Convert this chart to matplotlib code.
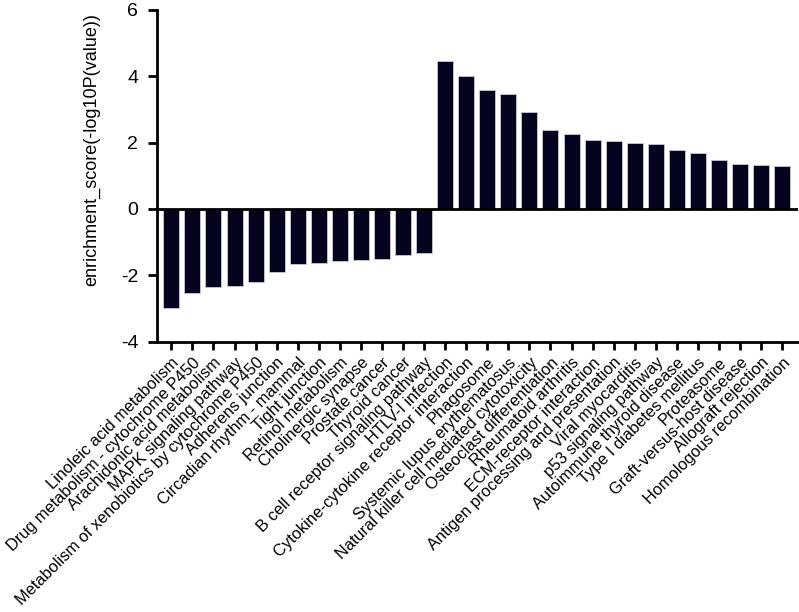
import matplotlib
matplotlib.use("Agg")
import matplotlib.pyplot as plt

categories = [
    "Linoleic acid metabolism",
    "Drug metabolism - cytochrome P450",
    "Arachidonic acid metabolism",
    "MAPK signaling pathway",
    "Metabolism of xenobiotics by cytochrome P450",
    "Adherens junction",
    "Circadian rhythm - mammal",
    "Tight junction",
    "Retinol metabolism",
    "Cholinergic synapse",
    "Prostate cancer",
    "Thyroid cancer",
    "B cell receptor signaling pathway",
    "HTLV-I infection",
    "Cytokine-cytokine receptor interaction",
    "Phagosome",
    "Systemic lupus erythematosus",
    "Natural killer cell mediated cytotoxicity",
    "Osteoclast differentiation",
    "Rheumatoid arthritis",
    "ECM-receptor interaction",
    "Antigen processing and presentation",
    "Viral myocarditis",
    "p53 signaling pathway",
    "Autoimmune thyroid disease",
    "Type I diabetes mellitus",
    "Proteasome",
    "Graft-versus-host disease",
    "Allograft rejection",
    "Homologous recombination",
]
scores = [
    -2.99, -2.52, -2.35, -2.31, -2.21, -1.89, -1.66, -1.62, -1.57, -1.53,
    -1.51, -1.39, -1.32,
    4.45, 4.00, 3.60, 3.46, 2.91, 2.39, 2.25, 2.08, 2.05, 1.98, 1.95,
    1.78, 1.68, 1.48, 1.35, 1.33, 1.31,
]
yticks = [-4, -2, 0, 2, 4, 6]

plt.rcParams['font.family'] = ['Liberation Sans', 'DejaVu Sans']

fig = plt.figure(figsize=(7.99, 6.12), dpi=100)
ax = fig.add_axes([0.1965, 0.4417, 0.8025, 0.542])

x = list(range(len(categories)))
ax.bar(x, scores, width=0.76, color='#05041f', edgecolor='#c8c8d8', linewidth=0.6, zorder=2)
ax.axhline(0, color='black', lw=2.0, zorder=3)

ax.set_xlim(-0.68, 29.76)
ax.set_ylim(-4, 6)
ax.set_yticks(yticks)
ax.set_yticklabels([str(t) for t in yticks], fontsize=14)
ax.set_xticks(x)
ax.set_xticklabels(categories, rotation=45, ha='right', rotation_mode='anchor', fontsize=11.8)

for s in ['top', 'right']:
    ax.spines[s].set_visible(False)
for s in ['left', 'bottom']:
    ax.spines[s].set_linewidth(2.0)
ax.tick_params(axis='y', direction='out', width=2.0, length=6.5, pad=7)
ax.tick_params(axis='x', direction='out', width=2.0, length=5.5, pad=4)

ax.set_ylabel('enrichment_score(-log10P(value))', fontsize=13)
ax.yaxis.set_label_coords(-0.088, 0.578)

fig.savefig('out.png', dpi=100)
